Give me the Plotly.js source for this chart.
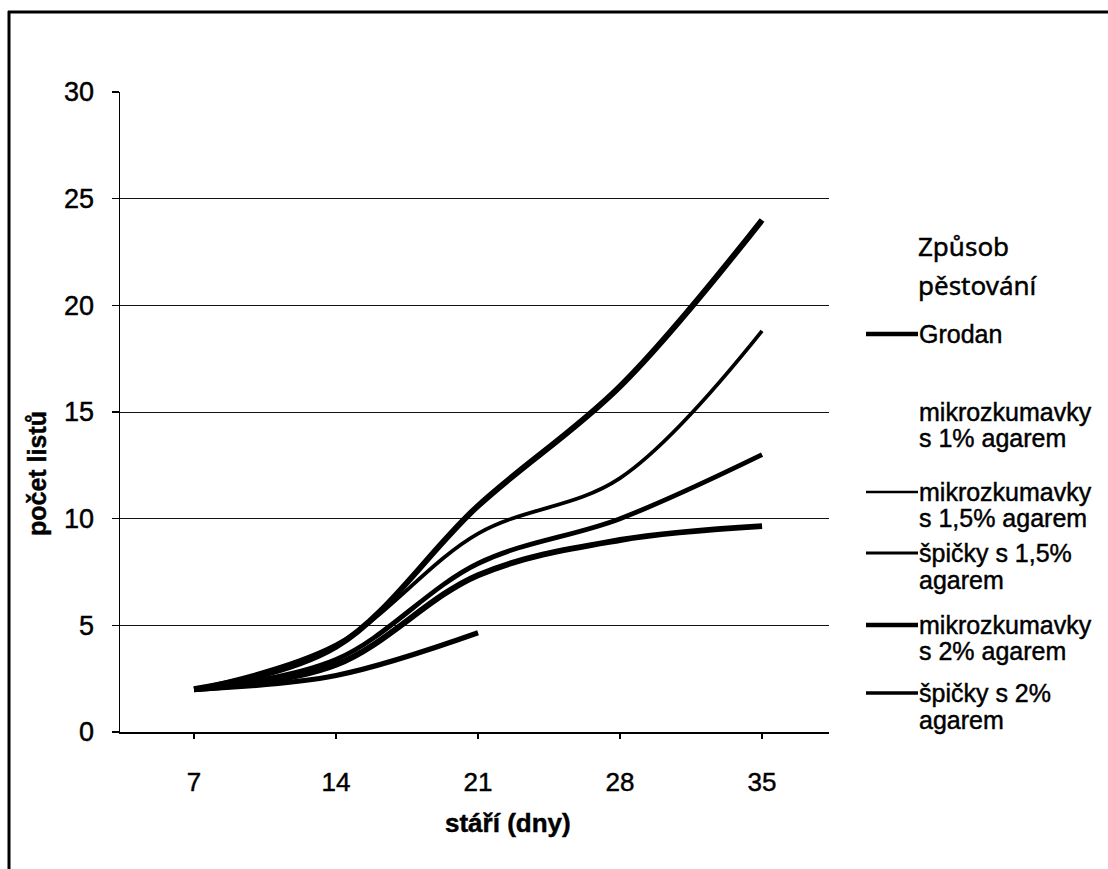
<!DOCTYPE html>
<html><head><meta charset="utf-8">
<script src="https://cdn.plot.ly/plotly-3.0.1.min.js"></script>
<style>
html,body{margin:0;padding:0;background:#fff}
#chart{width:1108px;height:869px}
#chart text{stroke:#000;stroke-width:0.45px}
</style>
</head><body><div id="chart"></div>
<script>
// ---- data ----
const days = [7, 14, 21, 28, 35];
const mikro2 = [2.0, 4.0, 10.6, 16.2, 24.0];
const mikro15 = [2.0, 4.1, 9.3, 11.9, 18.8];
const spicky15 = [2.0, 3.4, 7.9, 10.0, 13.0];
const grodan = [2.0, 3.15, 7.35, 9.0, 9.65];
const spicky2Days = [7, 14, 21];
const spicky2 = [2.0, 2.65, 4.65];
const yTicks = [0, 5, 10, 15, 20, 25, 30];
const xTitle = 'stáří (dny)';
const yTitle = 'počet listů';
const legendTitle = ['Způsob', 'pěstování'];
const legendNames = [
  ['Grodan'],
  ['mikrozkumavky', 's 1% agarem'],
  ['mikrozkumavky', 's 1,5% agarem'],
  ['špičky s 1,5%', 'agarem'],
  ['mikrozkumavky', 's 2% agarem'],
  ['špičky s 2%', 'agarem']
];

// ---- layout helpers (pixel -> paper) ----
const L = 120, R = 829, T = 92, B = 732;
const px = x => (x - L) / (R - L);
const py = y => (B - y) / (B - T);
const FONT = 'Liberation Sans, Arial, sans-serif';

const traces = [
  {x: days, y: grodan, name: legendNames[0].join(' '), width: 6},
  {x: days, y: mikro15, name: legendNames[2].join(' '), width: 3.8},
  {x: days, y: spicky15, name: legendNames[3].join(' '), width: 4.8},
  {x: days, y: mikro2, name: legendNames[4].join(' '), width: 6},
  {x: spicky2Days, y: spicky2, name: legendNames[5].join(' '), width: 5.2}
].map(t => ({
  type: 'scatter', mode: 'lines', x: t.x, y: t.y, name: t.name,
  line: {color: '#000', width: t.width, shape: 'spline', smoothing: 1},
  showlegend: false, hoverinfo: 'x+y+name'
}));

// manual legend (Excel-like)
const legendRows = [334, [412, 438], [492, 518], [553, 580], [625, 651], [693, 720]];
const legendLineW = [4.5, null, 2.6, 3, 4.5, 3.6];
const annotations = [];
const shapes = [];
legendTitle.forEach((t, i) => annotations.push({
  xref: 'paper', yref: 'paper', x: px(916), y: py([246, 285][i]),
  xanchor: 'left', yanchor: 'middle', showarrow: false, text: t,
  font: {family: 'Noto Sans, sans-serif', size: 26, color: '#000'}
}));
legendNames.forEach((lines, i) => {
  const ys = Array.isArray(legendRows[i]) ? legendRows[i] : [legendRows[i]];
  lines.forEach((t, j) => annotations.push({
    xref: 'paper', yref: 'paper', x: px(917), y: py(ys[j]),
    xanchor: 'left', yanchor: 'middle', showarrow: false, text: t,
    font: {family: FONT, size: 25, color: '#000'}
  }));
  if (legendLineW[i]) shapes.push({
    type: 'line', xref: 'paper', yref: 'paper',
    x0: px(866), x1: px(918), y0: py(ys[0]), y1: py(ys[0]),
    line: {color: '#000', width: legendLineW[i]}
  });
});
// axis titles
annotations.push({
  xref: 'paper', yref: 'paper', x: px(508), y: py(823), xanchor: 'center', yanchor: 'middle',
  showarrow: false, text: '<b>' + xTitle + '</b>', font: {family: FONT, size: 26, color: '#000'}
});
annotations.push({
  xref: 'paper', yref: 'paper', x: px(37), y: py(474), xanchor: 'center', yanchor: 'middle',
  showarrow: false, textangle: -90, text: '<b>' + yTitle + '</b>', font: {family: FONT, size: 25, color: '#000'}
});
// outer frame
shapes.push({type: 'line', xref: 'paper', yref: 'paper', x0: px(8), x1: px(1110), y0: py(12), y1: py(12), line: {color: '#000', width: 3}});
shapes.push({type: 'line', xref: 'paper', yref: 'paper', x0: px(9), x1: px(9), y0: py(11), y1: py(872), line: {color: '#000', width: 3}});

const layout = {
  width: 1108, height: 869,
  margin: {l: L, r: 1108 - R, t: T, b: 869 - B, pad: 0},
  paper_bgcolor: '#fff', plot_bgcolor: '#fff',
  showlegend: false,
  font: {family: FONT, color: '#000'},
  xaxis: {
    range: [3.35, 38.3], tickvals: days, ticktext: days.map(String),
    ticks: 'outside', ticklen: 5, tickwidth: 1.2, tickcolor: '#000',
    showgrid: false, zeroline: false, showline: true, linecolor: '#000', linewidth: 1.5,
    tickfont: {family: FONT, size: 26, color: '#000'}, ticklabelstandoff: 21, fixedrange: true
  },
  yaxis: {
    range: [0, 30], tickvals: yTicks,
    ticks: 'outside', ticklen: 7, tickwidth: 1.2, tickcolor: '#000',
    showgrid: true, gridcolor: '#111', gridwidth: 1,
    zeroline: false, showline: true, linecolor: '#000', linewidth: 1.5,
    tickfont: {family: FONT, size: 27, color: '#000'}, ticklabelstandoff: 12, fixedrange: true
  },
  annotations: annotations,
  shapes: shapes
};

Plotly.newPlot('chart', traces, layout, {displayModeBar: false, staticPlot: true});
</script>
</body></html>
